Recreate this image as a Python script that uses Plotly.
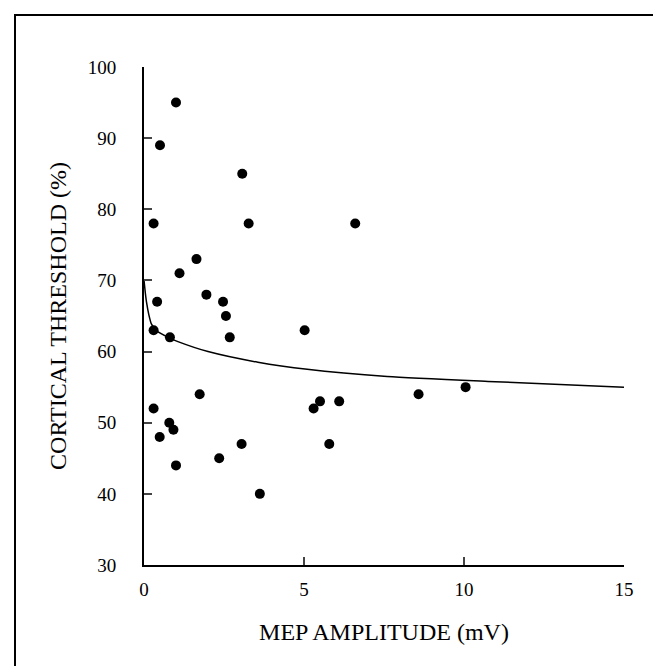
import plotly.graph_objects as go

# Scatter data: MEP amplitude (mV) vs cortical threshold (%)
mep_amplitude = [1.0, 0.5, 0.3, 3.07, 3.27, 6.6, 1.64, 1.11, 0.41, 1.95, 2.47, 2.56, 2.68,
                 0.3, 0.81, 5.02, 1.74, 0.3, 0.79, 0.92, 0.49, 1.0, 2.35, 3.05, 3.62,
                 5.3, 5.5, 6.1, 5.79, 8.58, 10.05]
cortical_threshold = [95, 89, 78, 85, 78, 78, 73, 71, 67, 68, 67, 65, 62,
                      63, 62, 63, 54, 52, 50, 49, 48, 44, 45, 47, 40,
                      52, 53, 53, 47, 54, 55]

# Fitted curve
curve_x = [0, 0.04, 0.08, 0.15, 0.23, 0.4, 0.8, 1.06, 2.0, 3.56, 5.1, 7.6, 10.75, 15]
curve_y = [70, 68.3, 66.9, 65.2, 63.9, 62.9, 61.9, 61.4, 60.0, 58.5, 57.5, 56.5, 55.8, 55.0]

x_ticks = [0, 5, 10, 15]
y_ticks = [30, 40, 50, 60, 70, 80, 90, 100]

FONT = "Liberation Serif, Times New Roman, serif"

fig = go.Figure()
fig.add_trace(go.Scatter(x=curve_x, y=curve_y, mode="lines",
                         line=dict(color="black", width=1.5, shape="spline", smoothing=0.6),
                         hoverinfo="skip", showlegend=False))
fig.add_trace(go.Scatter(x=mep_amplitude, y=cortical_threshold, mode="markers",
                         marker=dict(color="black", size=10), showlegend=False))

W, H = 661, 666
L, R, T, B = 136, 45, 59, 109
pw, ph = W - L - R, H - T - B

def px(xp):
    return (xp - L) / pw

def py(yp):
    return (H - B - yp) / ph

fig.add_shape(type="rect", xref="paper", yref="paper",
              x0=px(7), x1=px(668), y0=py(673), y1=py(7),
              line=dict(color="black", width=2), fillcolor="rgba(0,0,0,0)", layer="below")

fig.update_layout(
    width=W, height=H,
    margin=dict(l=L, r=R, t=T, b=B),
    paper_bgcolor="white", plot_bgcolor="white",
    font=dict(family=FONT, size=19, color="black"),
    xaxis=dict(range=[0, 15], tickvals=x_ticks, ticks="inside", ticklen=8, tickwidth=1.5,
               showline=True, linecolor="black", linewidth=2, showgrid=False, zeroline=False,
               title=dict(text="MEP AMPLITUDE (mV)", font=dict(size=24), standoff=24),
               ticklabelstandoff=6),
    yaxis=dict(range=[30, 100], tickvals=y_ticks, ticks="inside", ticklen=8, tickwidth=1.5,
               showline=True, linecolor="black", linewidth=2, showgrid=False, zeroline=False,
               title=dict(text="CORTICAL THRESHOLD (%)", font=dict(size=24), standoff=14),
               ticklabelstandoff=22),
)

fig.write_html("out.html")
